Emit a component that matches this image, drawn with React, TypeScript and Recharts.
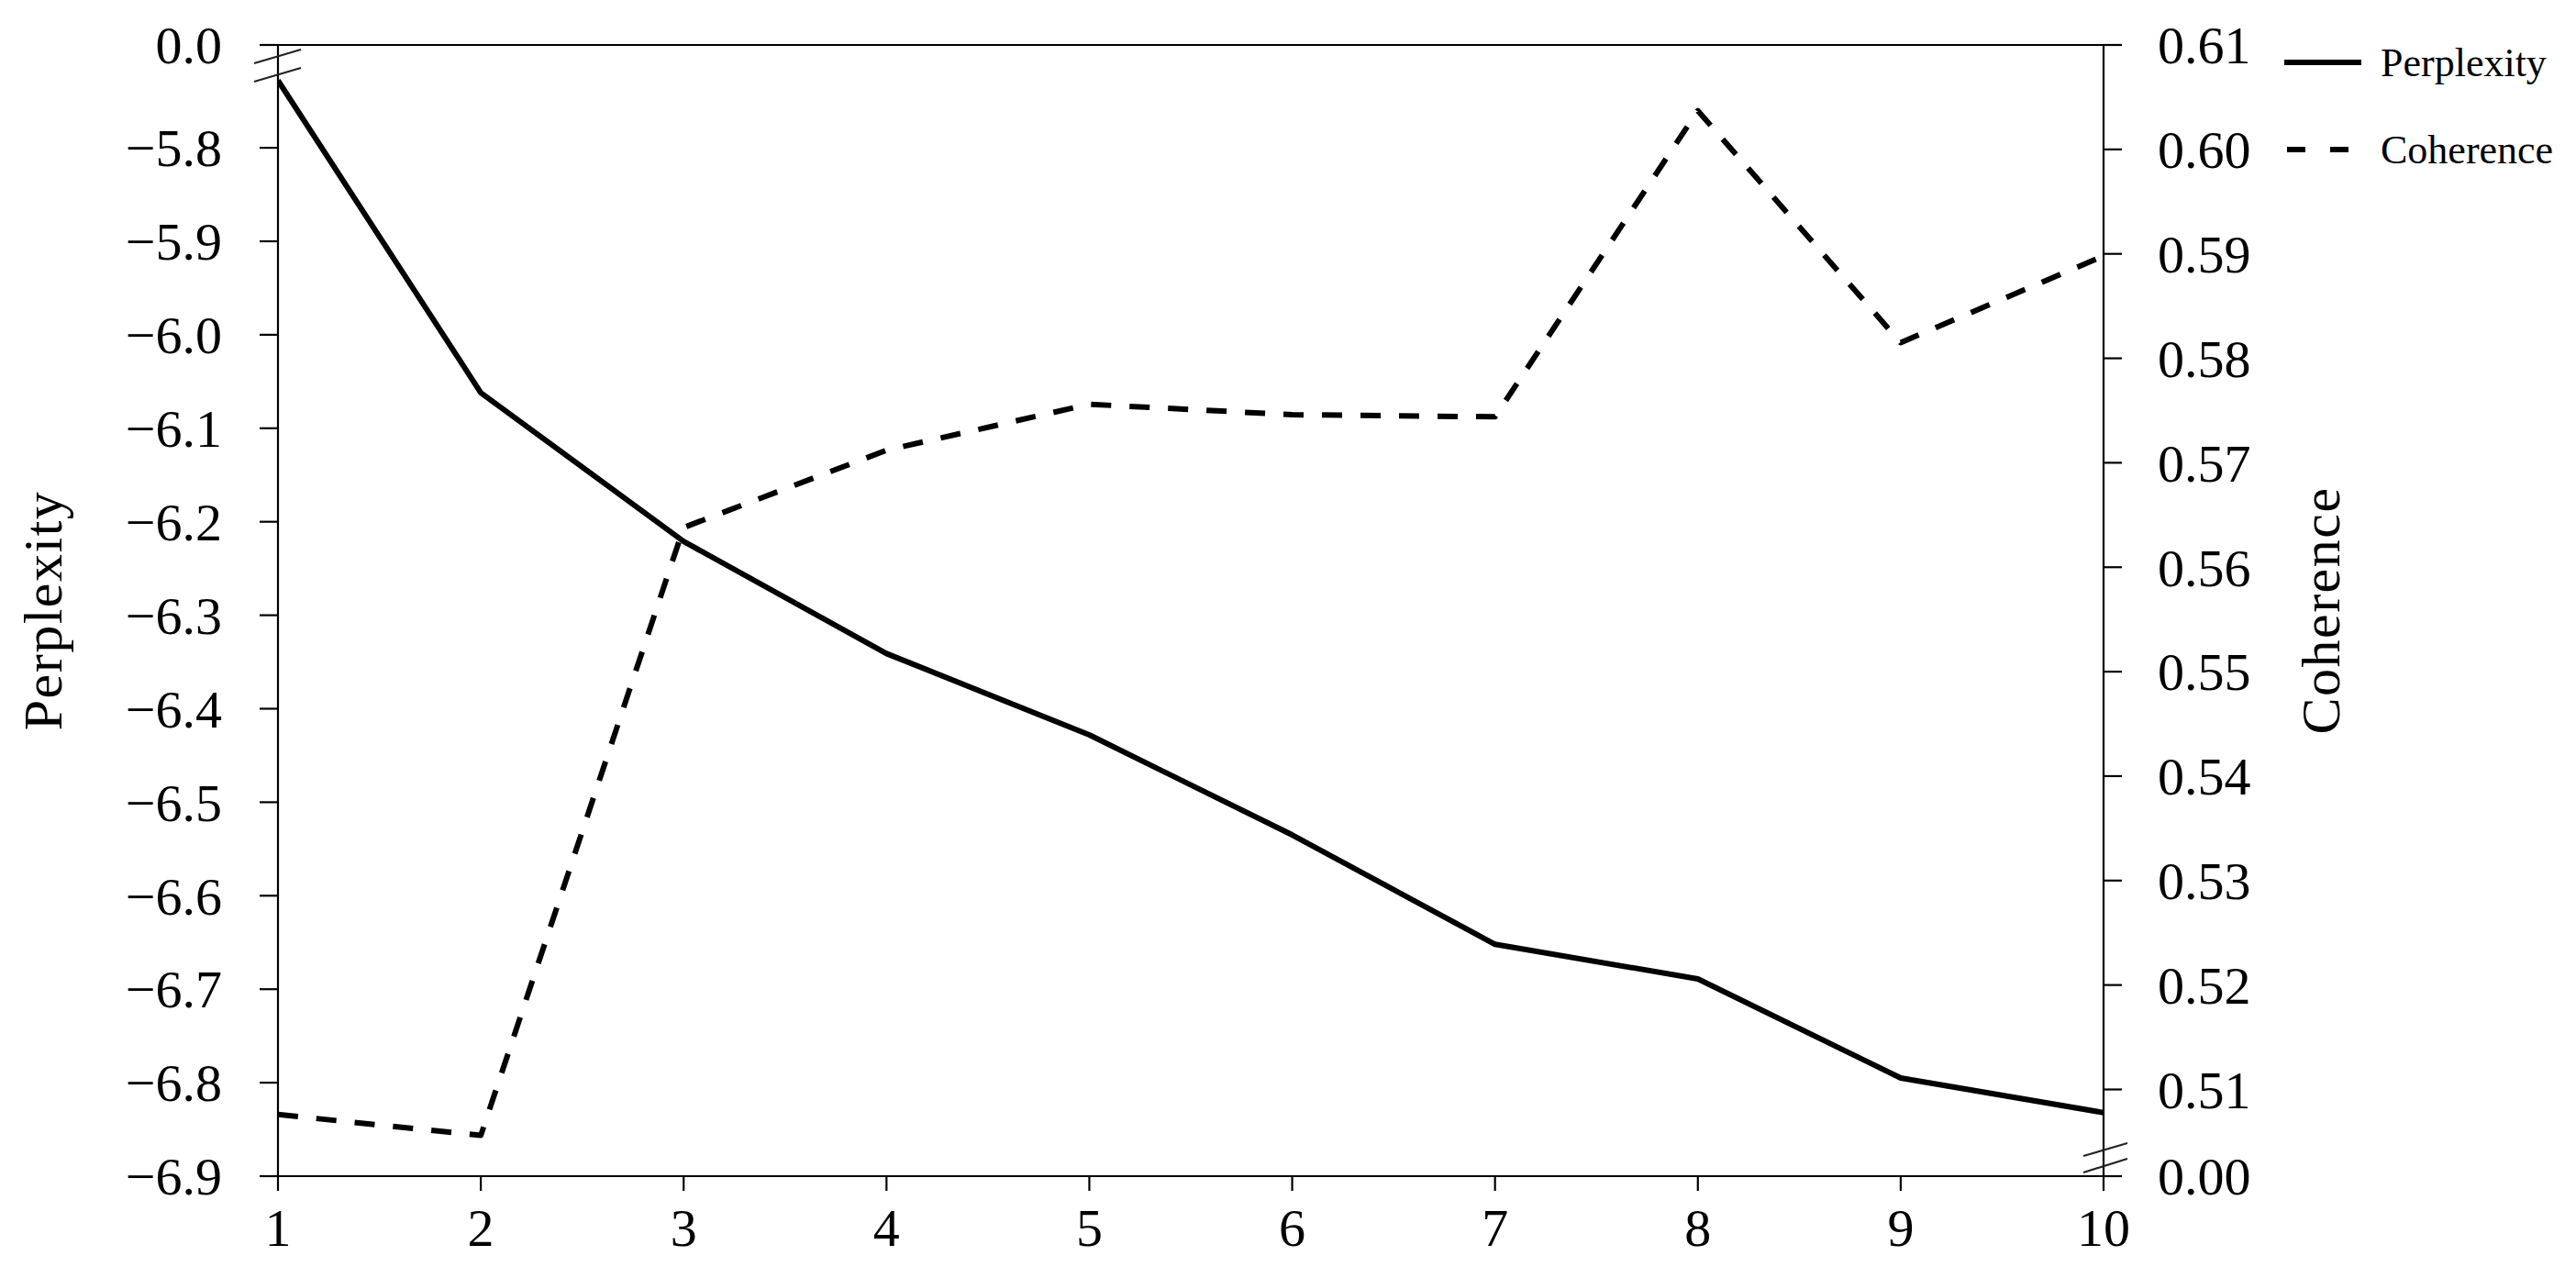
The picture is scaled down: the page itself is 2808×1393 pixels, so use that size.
import React from 'react';
import { LineChart, Line, XAxis, YAxis, Legend, ReferenceLine } from 'recharts';

// ---- data ----
const TOPICS = [1, 2, 3, 4, 5, 6, 7, 8, 9, 10];
const PERPLEXITY = [-5.728, -6.062, -6.221, -6.341, -6.428, -6.535, -6.652, -6.689, -6.795, -6.832];
const COHERENCE = [0.5076, 0.5056, 0.5638, 0.5712, 0.5756, 0.5746, 0.5744, 0.6037, 0.5815, 0.5898];

const X_TICKS = [1, 2, 3, 4, 5, 6, 7, 8, 9, 10];
const LEFT_TICKS = [-6.9, -6.8, -6.7, -6.6, -6.5, -6.4, -6.3, -6.2, -6.1, -6.0, -5.9, -5.8];
const LEFT_BREAK_VALUE = -5.69; // top of broken axis
const LEFT_BREAK_LABEL = '0.0';
const RIGHT_TICKS = [0.51, 0.52, 0.53, 0.54, 0.55, 0.56, 0.57, 0.58, 0.59, 0.6, 0.61];
const RIGHT_BREAK_VALUE = 0.5017; // bottom of broken axis
const RIGHT_BREAK_LABEL = '0.00';

const SERIES_NAMES = ['Perplexity', 'Coherence'];
const AXIS_TITLES = ['Perplexity', 'Coherence'];

const data = TOPICS.map((t, i) => ({ topics: t, perplexity: PERPLEXITY[i], coherence: COHERENCE[i] }));

// ---- style ----
const FONT = '"Liberation Serif", "Times New Roman", Times, serif';
const TICK_FONT = 58;
const TITLE_FONT = 60;
const LEGEND_FONT = 44;
const DASH = '22 20';
const LINE_W = 6;
const LEFT_TICK_SIZE = 20;
const LEFT_TICK_MARGIN = 41;
const RIGHT_TICK_SIZE = 20;
const RIGHT_TICK_MARGIN = 39;

const fmtLeft = (v: number) => (v === LEFT_BREAK_VALUE ? LEFT_BREAK_LABEL : v.toFixed(1).replace('-', '\u2212'));
const fmtRight = (v: number) => (v === RIGHT_BREAK_VALUE ? RIGHT_BREAK_LABEL : v.toFixed(2));

function LeftTick(props: any) {
  const { x, y, payload } = props;
  const v = payload.value;
  const ax = x + LEFT_TICK_SIZE + LEFT_TICK_MARGIN;
  return (
    <g>
      <text x={x} y={y} dy="0.35em" textAnchor="end" fontFamily={FONT} fontSize={TICK_FONT} fill="#000">
        {fmtLeft(v)}
      </text>
      {v === LEFT_BREAK_VALUE && (
        <g stroke="#222" strokeWidth={2.2}>
          <line x1={ax - 26} y1={y + 20} x2={ax + 25} y2={y + 5} />
          <line x1={ax - 26} y1={y + 40} x2={ax + 25} y2={y + 25} />
        </g>
      )}
    </g>
  );
}

function RightTick(props: any) {
  const { x, y, payload } = props;
  const v = payload.value;
  const ax = x - RIGHT_TICK_SIZE - RIGHT_TICK_MARGIN;
  return (
    <g>
      <text x={x} y={y} dy="0.35em" textAnchor="start" fontFamily={FONT} fontSize={TICK_FONT} fill="#000">
        {fmtRight(v)}
      </text>
      {v === RIGHT_BREAK_VALUE && (
        <g stroke="#222" strokeWidth={2.2}>
          <line x1={ax - 22} y1={y - 22} x2={ax + 26} y2={y - 36} />
          <line x1={ax - 22} y1={y - 4} x2={ax + 26} y2={y - 19} />
        </g>
      )}
    </g>
  );
}

function BottomTick(props: any) {
  const { x, y, payload } = props;
  return (
    <text x={x} y={y} dy="0.35em" textAnchor="middle" fontFamily={FONT} fontSize={TICK_FONT} fill="#000">
      {String(payload.value)}
    </text>
  );
}

function AxisTitle(props: any) {
  const { side, text } = props;
  const vb = props.viewBox || {};
  const vx = typeof vb.x === 'number' ? vb.x : side === 'left' ? 0 : 2285;
  const vy = typeof vb.y === 'number' ? vb.y : 41;
  const vh = typeof vb.height === 'number' ? vb.height : 1233;
  const x = side === 'left' ? vx + 59 : vx + 257;
  const y = vy + vh / 2;
  return (
    <text
      x={x}
      y={y}
      transform={`rotate(-90 ${x} ${y})`}
      textAnchor="middle"
      fontFamily={FONT}
      fontSize={TITLE_FONT}
      letterSpacing={1.5}
      fill="#000"
    >
      {text}
    </text>
  );
}

function LegendContent(props: any) {
  const payload = [...(props.payload || [])].sort(
    (a: any, b: any) => SERIES_NAMES.indexOf(a.value) - SERIES_NAMES.indexOf(b.value)
  );
  return (
    <svg width={320} height={170} style={{ overflow: 'visible', display: 'block' }}>
      {payload.map((item: any, i: number) => {
        const y = 30 + i * 95;
        const dashed = item.value === SERIES_NAMES[1];
        return (
          <g key={i}>
            {dashed ? (
              <line x1={13} y1={y} x2={80} y2={y} stroke="#000" strokeWidth={LINE_W} strokeDasharray="20 27" />
            ) : (
              <line x1={10} y1={y} x2={94} y2={y} stroke="#000" strokeWidth={LINE_W} />
            )}
            <text x={115} y={y} dy="0.35em" fontFamily={FONT} fontSize={LEGEND_FONT} fill="#000">
              {item.value}
            </text>
          </g>
        );
      })}
    </svg>
  );
}

export default function App() {
  return (
    <div style={{ width: 2790, height: 1380, background: '#fff' }}>
      <LineChart width={2790} height={1380} data={data} margin={{ top: 41, right: 0, bottom: 0, left: 0 }}>
        <XAxis
          dataKey="topics"
          type="number"
          domain={[1, 10]}
          ticks={X_TICKS}
          interval={0}
          allowDataOverflow
          height={106}
          tickSize={16}
          tickMargin={40}
          stroke="#000"
          axisLine={{ stroke: '#000', strokeWidth: 2.2 }}
          tickLine={{ stroke: '#000', strokeWidth: 2.2 }}
          tick={<BottomTick />}
        />
        <YAxis
          yAxisId="left"
          orientation="left"
          type="number"
          domain={[-6.9, LEFT_BREAK_VALUE]}
          ticks={[...LEFT_TICKS, LEFT_BREAK_VALUE]}
          interval={0}
          allowDataOverflow
          width={295}
          tickSize={LEFT_TICK_SIZE}
          tickMargin={LEFT_TICK_MARGIN}
          axisLine={{ stroke: '#000', strokeWidth: 2.2 }}
          tickLine={{ stroke: '#000', strokeWidth: 2.2 }}
          tick={<LeftTick />}
          label={<AxisTitle side="left" text={AXIS_TITLES[0]} />}
        />
        <YAxis
          yAxisId="right"
          orientation="right"
          type="number"
          domain={[RIGHT_BREAK_VALUE, 0.61]}
          ticks={[RIGHT_BREAK_VALUE, ...RIGHT_TICKS]}
          interval={0}
          allowDataOverflow
          width={505}
          tickSize={RIGHT_TICK_SIZE}
          tickMargin={RIGHT_TICK_MARGIN}
          axisLine={{ stroke: '#000', strokeWidth: 2.2 }}
          tickLine={{ stroke: '#000', strokeWidth: 2.2 }}
          tick={<RightTick />}
          label={<AxisTitle side="right" text={AXIS_TITLES[1]} />}
        />
        <ReferenceLine yAxisId="left" y={LEFT_BREAK_VALUE} stroke="#000" strokeWidth={2.2} ifOverflow="visible" />
        <Legend
          layout="vertical"
          align="center"
          verticalAlign="middle"
          itemSorter={null as any}
          wrapperStyle={{ left: 2472, top: 30, width: 320, height: 170 }}
          content={<LegendContent />}
        />
        <Line
          yAxisId="left"
          type="linear"
          dataKey="perplexity"
          name={SERIES_NAMES[0]}
          stroke="#000"
          strokeWidth={LINE_W}
          strokeLinejoin="round"
          dot={false}
          activeDot={false}
          isAnimationActive={false}
        />
        <Line
          yAxisId="right"
          type="linear"
          dataKey="coherence"
          name={SERIES_NAMES[1]}
          stroke="#000"
          strokeWidth={LINE_W}
          strokeDasharray={DASH}
          strokeLinejoin="round"
          dot={false}
          activeDot={false}
          isAnimationActive={false}
        />
      </LineChart>
    </div>
  );
}
